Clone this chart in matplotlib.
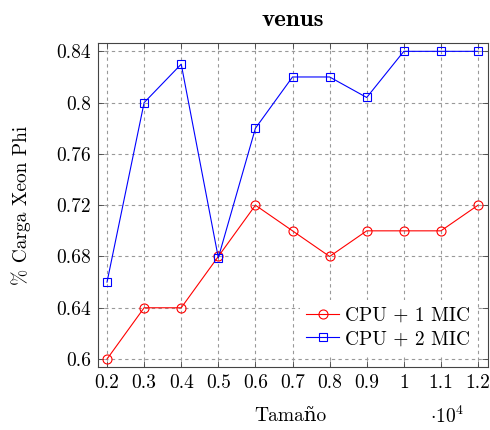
import matplotlib
matplotlib.use("Agg")
import matplotlib.pyplot as plt

plt.rcParams['font.family'] = ['cmr10', 'DejaVu Serif']
plt.rcParams['axes.formatter.use_mathtext'] = True
plt.rcParams['mathtext.fontset'] = 'cm'

x = [0.2, 0.3, 0.4, 0.5, 0.6, 0.7, 0.8, 0.9, 1.0, 1.1, 1.2]
cpu_1mic = [0.60, 0.64, 0.64, 0.68, 0.72, 0.70, 0.68, 0.70, 0.70, 0.70, 0.72]
cpu_2mic = [0.66, 0.80, 0.83, 0.679, 0.78, 0.82, 0.82, 0.804, 0.84, 0.84, 0.84]
xticklabels = ["0.2", "0.3", "0.4", "0.5", "0.6", "0.7", "0.8", "0.9", "1", "1.1", "1.2"]
yticks = [0.60, 0.64, 0.68, 0.72, 0.76, 0.80, 0.84]
yticklabels = ["0.6", "0.64", "0.68", "0.72", "0.76", "0.8", "0.84"]

fig = plt.figure(figsize=(4.9, 4.3), dpi=100)
ax = fig.add_axes([0.2, 0.1465, 0.796, 0.7535])

ax.plot(x, cpu_1mic, color='red', lw=0.8, marker='o', ms=6.5, mfc='none', mew=0.8,
        label='CPU + 1 MIC')
ax.plot(x, cpu_2mic, color='blue', lw=0.8, marker='s', ms=6, mfc='none', mew=0.8,
        label='CPU + 2 MIC')

ax.set_xlim(0.1757, 1.227)
ax.set_ylim(0.5938, 0.8465)
ax.set_xticks(x)
ax.set_xticklabels(xticklabels)
ax.set_yticks(yticks)
ax.set_yticklabels(yticklabels)
ax.tick_params(direction='in', top=True, right=True, labelsize=14, length=4,
               width=0.6, color='#444444', pad=5)
ax.grid(True, color='#999999', linestyle=(0, (3, 3)), lw=0.8)
for s in ax.spines.values():
    s.set_color('#444444')
    s.set_linewidth(0.8)

ax.set_title('venus', fontsize=18, fontfamily='cmb10', pad=12)
ax.set_ylabel('% Carga Xeon Phi', fontsize=14, labelpad=18)
fig.text(0.592, 0.032, 'Tamaño', fontsize=14, ha='center', va='center')
fig.text(0.912, 0.032, r'$\cdot10^4$', fontsize=14, ha='center', va='center')

leg = ax.legend(loc='lower right', bbox_to_anchor=(0.972, 0.037), fontsize=14,
                frameon=True, fancybox=False, edgecolor='none', facecolor='white',
                framealpha=1, borderpad=0.35, labelspacing=0.3,
                handlelength=1.7, handletextpad=0.3, borderaxespad=0.0)

fig.savefig('out.png', dpi=100)
